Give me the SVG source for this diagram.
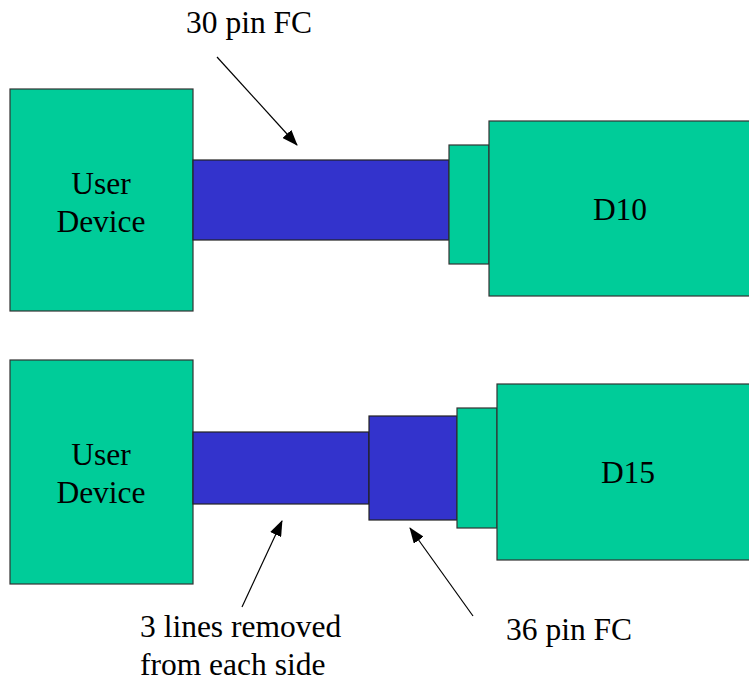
<svg xmlns="http://www.w3.org/2000/svg" width="749" height="682" viewBox="0 0 749 682">
<style>
.g{fill:#00CC99;stroke:#333;stroke-width:1.2}
.b{fill:#3333CC;stroke:#222;stroke-width:1.2}
.t{font-family:"Liberation Serif","Times New Roman",serif;font-size:31.5px;fill:#000}
.c{stroke:#000;stroke-width:1.2;fill:none;marker-end:url(#ah)}
</style>
<defs>
<marker id="ah" markerWidth="16" markerHeight="12" refX="15" refY="6" orient="auto" markerUnits="userSpaceOnUse">
<path d="M0,0 L16,6 L0,12 Z" fill="#000"/>
</marker>
</defs>
<rect width="749" height="682" fill="#fff"/>
<g id="user-device-1">
<rect class="g" x="10" y="89" width="183" height="222"/>
<text class="t" x="101" y="194" text-anchor="middle">User</text>
<text class="t" x="101" y="232" text-anchor="middle">Device</text>
</g>
<g id="cable-30">
<rect class="b" x="193" y="160" width="256" height="80"/>
</g>
<g id="connector-1">
<rect class="g" x="449" y="145" width="40" height="119"/>
</g>
<g id="d10">
<rect class="g" x="489" y="121" width="262" height="175"/>
<text class="t" x="620" y="220" text-anchor="middle">D10</text>
</g>
<g id="user-device-2">
<rect class="g" x="10" y="360" width="183" height="224"/>
<text class="t" x="101" y="465" text-anchor="middle">User</text>
<text class="t" x="101" y="503" text-anchor="middle">Device</text>
</g>
<g id="cable-reduced">
<rect class="b" x="193" y="432" width="176" height="72"/>
</g>
<g id="fc-36">
<rect class="b" x="369" y="416" width="88" height="104"/>
</g>
<g id="connector-2">
<rect class="g" x="457" y="408" width="40" height="120"/>
</g>
<g id="d15">
<rect class="g" x="497" y="384" width="254" height="176"/>
<text class="t" x="628" y="483" text-anchor="middle">D15</text>
</g>
<g id="label-30pin">
<text class="t" x="186" y="33">30 pin FC</text>
</g>
<g id="label-3lines">
<text class="t" x="140" y="637">3 lines removed</text>
<text class="t" x="140" y="675">from each side</text>
</g>
<g id="label-36pin">
<text class="t" x="506" y="640">36 pin FC</text>
</g>
<g id="connectors">
<line class="c" x1="217" y1="57" x2="297" y2="145"/>
<line class="c" x1="242" y1="607" x2="282" y2="521"/>
<line class="c" x1="473" y1="616" x2="410" y2="528"/>
</g>
</svg>
